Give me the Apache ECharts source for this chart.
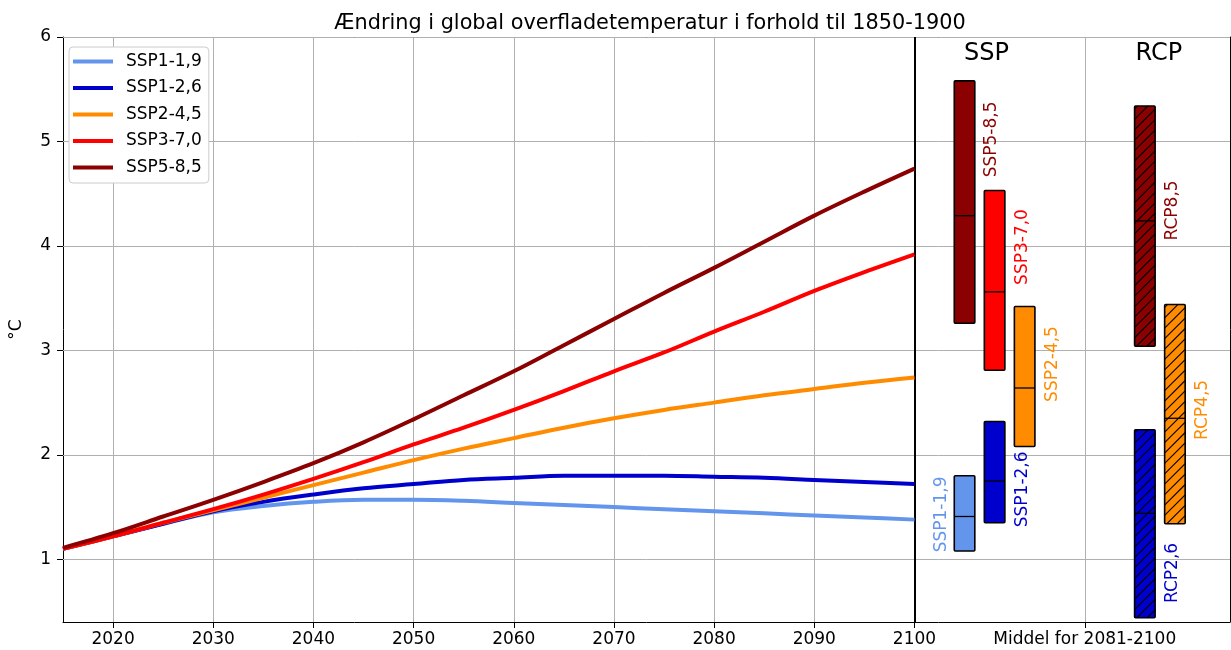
<!DOCTYPE html>
<html><head><meta charset="utf-8">
<script src="https://cdn.jsdelivr.net/npm/echarts@6/dist/echarts.min.js"></script>
<style>html,body{margin:0;padding:0;background:#fff}#c{width:1231px;height:650px}</style>
</head><body><div id="c"></div>
<script>
// ---- data ----
const years = [2015,2020,2025,2030,2035,2040,2045,2050,2055,2060,2065,2070,2075,2080,2085,2090,2095,2100];
const ssp119 = [1.10,1.22,1.34,1.45,1.51,1.55,1.57,1.57,1.56,1.54,1.52,1.50,1.48,1.46,1.44,1.42,1.40,1.38];
const ssp126 = [1.10,1.22,1.34,1.46,1.55,1.62,1.68,1.72,1.76,1.78,1.80,1.80,1.80,1.79,1.78,1.76,1.74,1.72];
const ssp245 = [1.10,1.22,1.35,1.47,1.59,1.71,1.83,1.95,2.06,2.16,2.26,2.35,2.43,2.50,2.57,2.63,2.69,2.74];
const ssp370 = [1.10,1.22,1.35,1.48,1.62,1.77,1.93,2.10,2.26,2.43,2.61,2.80,2.98,3.18,3.37,3.57,3.75,3.92];
const ssp585 = [1.11,1.25,1.41,1.57,1.74,1.92,2.12,2.34,2.57,2.80,3.05,3.30,3.55,3.79,4.04,4.29,4.52,4.74];
const lineNames = ['SSP1-1,9','SSP1-2,6','SSP2-4,5','SSP3-7,0','SSP5-8,5'];
const lineValues = [ssp119, ssp126, ssp245, ssp370, ssp585];

const xTicks = [2020,2030,2040,2050,2060,2070,2080,2090,2100];
const middelTick = 2117;
const middelLabel = 'Middel for 2081-2100';
const yTicks = [1,2,3,4,5,6];

// box summaries (mean 2081-2100), x position in axis units
const sspBoxNames = ['SSP1-1,9','SSP1-2,6','SSP2-4,5','SSP3-7,0','SSP5-8,5'];
const sspBoxX     = [2105, 2108, 2111, 2108, 2105];
const sspLow      = [1.08, 1.35, 2.08, 2.81, 3.26];
const sspMed      = [1.41, 1.75, 2.64, 3.56, 4.29];
const sspHigh     = [1.80, 2.32, 3.42, 4.53, 5.58];
const sspLabelY   = [1.43, 1.67, 2.87, 3.99, 5.02];

const rcpBoxNames = ['RCP2,6','RCP4,5','RCP8,5'];
const rcpBoxX     = [2123, 2126, 2123];
const rcpLow      = [0.44, 1.34, 3.04];
const rcpMed      = [1.44, 2.35, 4.24];
const rcpHigh     = [2.24, 3.44, 5.34];
const rcpLabelY   = [0.87, 2.43, 4.34];

const groupHeaders = ['SSP','RCP'];
const groupHeaderX = [2107.2, 2124.4];
const groupHeaderY = [5.84, 5.84];

// ---- styles ----
const lineColors = ['#6495ED','#0000CD','#FF8C00','#FF0000','#8B0000'];
const sspColors  = ['#6495ED','#0000CD','#FF8C00','#FF0000','#8B0000'];
const rcpColors  = ['#0000CD','#FF8C00','#8B0000'];
const sspLabelLeft = [true,false,false,false,false];
const FONT = 'DejaVu Sans';
const BOX_W = 2.05;

function hatchLines(x0,y0,x1,y1,step){
  const out=[];
  for(let c = x0 + y0 + 3; c < x1 + y1; c += step){
    const lo = Math.max(x0, c - y1), hi = Math.min(x1, c - y0);
    if (hi > lo) out.push({type:'line', shape:{x1:lo, y1:c-lo, x2:hi, y2:c-hi}, style:{stroke:'#000', lineWidth:1.1}});
  }
  return out;
}

function makeBoxRender(names, colors, labelLeft, hatched){
  return function(params, api){
    const i = params.dataIndex;
    const x = api.value(0), lo = api.value(1), med = api.value(2), hi = api.value(3), ly = api.value(4);
    const pT = api.coord([x, hi]), pB = api.coord([x, lo]), pM = api.coord([x, med]), pL = api.coord([x, ly]);
    const w = api.size([BOX_W, 0])[0];
    const x0 = pT[0] - w/2, x1 = pT[0] + w/2;
    const children = [
      {type:'rect', shape:{x:x0, y:pT[1], width:w, height:pB[1]-pT[1]}, style:{fill:colors[i], stroke:null}}
    ];
    if (hatched) children.push(...hatchLines(x0, pT[1], x1, pB[1], 10.4));
    children.push({type:'line', shape:{x1:x0, y1:pM[1], x2:x1, y2:pM[1]}, style:{stroke:'#000', lineWidth:1.3}});
    children.push({type:'rect', shape:{x:x0, y:pT[1], width:w, height:pB[1]-pT[1], r:1}, style:{fill:null, stroke:'#000', lineWidth:1.6}});
    const off = (labelLeft && labelLeft[i]) ? -22.7 : 27.5;
    children.push({type:'text', x:pT[0] + off, y:pL[1], rotation:Math.PI/2,
      style:{text:names[i], fill:colors[i], font:'17px "' + FONT + '"', align:'center', verticalAlign:'middle'}});
    return {type:'group', children};
  };
}

const gridMarks = xTicks.filter(v => v !== 2100).concat([middelTick]).map(v => ({xAxis:v}))
  .concat(yTicks.map(v => ({yAxis:v})));

const chart = echarts.init(document.getElementById('c'), null, {renderer:'canvas'});
const series = [];
series.push({
  type:'line', name:'_grid', data:[], silent:true, z:1,
  markLine:{z:1, silent:true, symbol:['none','none'], animation:false, label:{show:false},
    lineStyle:{color:'#b0b0b0', width:1, type:'solid'}, data: gridMarks}
});
lineValues.forEach((arr, k) => {
  series.push({
    type:'line', name: lineNames[k], data: years.map((y, i) => [y, arr[i]]),
    showSymbol:false, symbol:'none', smooth:0.35, z:3+k,
    lineStyle:{color: lineColors[k], width:4}, itemStyle:{color: lineColors[k]}
  });
});
series.push({
  type:'line', name:'_sep', data:[], silent:true, z:3,
  markLine:{z:3, silent:true, symbol:['none','none'], animation:false, label:{show:false},
    lineStyle:{color:'#000', width:2, type:'solid'}, data:[{xAxis:2100}]}
});
series.push({
  type:'custom', name:'_ssp', coordinateSystem:'cartesian2d', z:3, silent:true,
  data: sspBoxX.map((x, i) => [x, sspLow[i], sspMed[i], sspHigh[i], sspLabelY[i]]),
  encode:{x:0, y:[1,2,3]},
  renderItem: makeBoxRender(sspBoxNames, sspColors, sspLabelLeft, false)
});
series.push({
  type:'custom', name:'_rcp', coordinateSystem:'cartesian2d', z:3, silent:true,
  data: rcpBoxX.map((x, i) => [x, rcpLow[i], rcpMed[i], rcpHigh[i], rcpLabelY[i]]),
  encode:{x:0, y:[1,2,3]},
  renderItem: makeBoxRender(rcpBoxNames, rcpColors, null, true)
});
series.push({
  type:'custom', name:'_hdr', coordinateSystem:'cartesian2d', z:3, silent:true,
  data: groupHeaderX.map((x, i) => [x, groupHeaderY[i]]),
  renderItem: function(params, api){
    const p = api.coord([api.value(0), api.value(1)]);
    return {type:'text', x:p[0], y:p[1], style:{text: groupHeaders[params.dataIndex], fill:'#000',
      font:'24px "' + FONT + '"', align:'center', verticalAlign:'middle'}};
  }
});

const xMin = 2015, xMax = 2131.5;
chart.setOption({
  animation:false,
  backgroundColor:'#fff',
  textStyle:{fontFamily: FONT},
  title:{text:'Ændring i global overfladetemperatur i forhold til 1850-1900', left:645, textAlign:'center', top:8,
    textStyle:{fontSize:20.8, fontWeight:'normal', color:'#000', fontFamily: FONT}},
  legend:{z:20, data: lineNames, orient:'vertical', left:69, top:47, padding:[6,7,7,4], itemGap:9.5,
    icon:'rect', itemWidth:40, itemHeight:4, selectedMode:false,
    backgroundColor:'#fff', borderColor:'#cccccc', borderWidth:1, borderRadius:4,
    textStyle:{fontSize:17, color:'#000', lineHeight:17, padding:[0,0,0,8], fontFamily: FONT}},
  grid:{left:60, right:1, top:37, bottom:28, containLabel:false},
  xAxis:[
    {type:'value', min:xMin, max:xMax, position:'bottom',
      axisLine:{show:true, onZero:false, lineStyle:{color:'#000', width:1}},
      axisTick:{show:true, length:6, inside:false, customValues: xTicks.concat([middelTick]), lineStyle:{color:'#000', width:1}},
      axisLabel:{show:true, customValues: xTicks.concat([middelTick]), margin:9, fontSize:17, color:'#000', fontFamily: FONT,
        formatter: v => (Math.abs(v - middelTick) < 0.01 ? middelLabel : String(Math.round(v)))},
      splitLine:{show:false}},
    {type:'value', min:xMin, max:xMax, position:'top',
      axisLine:{show:true, onZero:false, lineStyle:{color:'#000', width:1}},
      axisTick:{show:false}, axisLabel:{show:false}, splitLine:{show:false}}
  ],
  yAxis:[
    {type:'value', min:0.4, max:6, position:'left',
      name:'°C', nameLocation:'middle', nameGap:38, nameRotate:90,
      nameTextStyle:{fontSize:17, color:'#000', fontFamily: FONT},
      axisLine:{show:true, onZero:false, lineStyle:{color:'#000', width:1}},
      axisTick:{show:true, length:6, inside:false, customValues: yTicks, lineStyle:{color:'#000', width:1}},
      axisLabel:{show:true, customValues: yTicks, margin:12, fontSize:17, color:'#000', fontFamily: FONT},
      splitLine:{show:false}},
    {type:'value', min:0.4, max:6, position:'right',
      axisLine:{show:true, onZero:false, lineStyle:{color:'#000', width:1}},
      axisTick:{show:false}, axisLabel:{show:false}, splitLine:{show:false}}
  ],
  series: series
});
</script>
</body></html>
